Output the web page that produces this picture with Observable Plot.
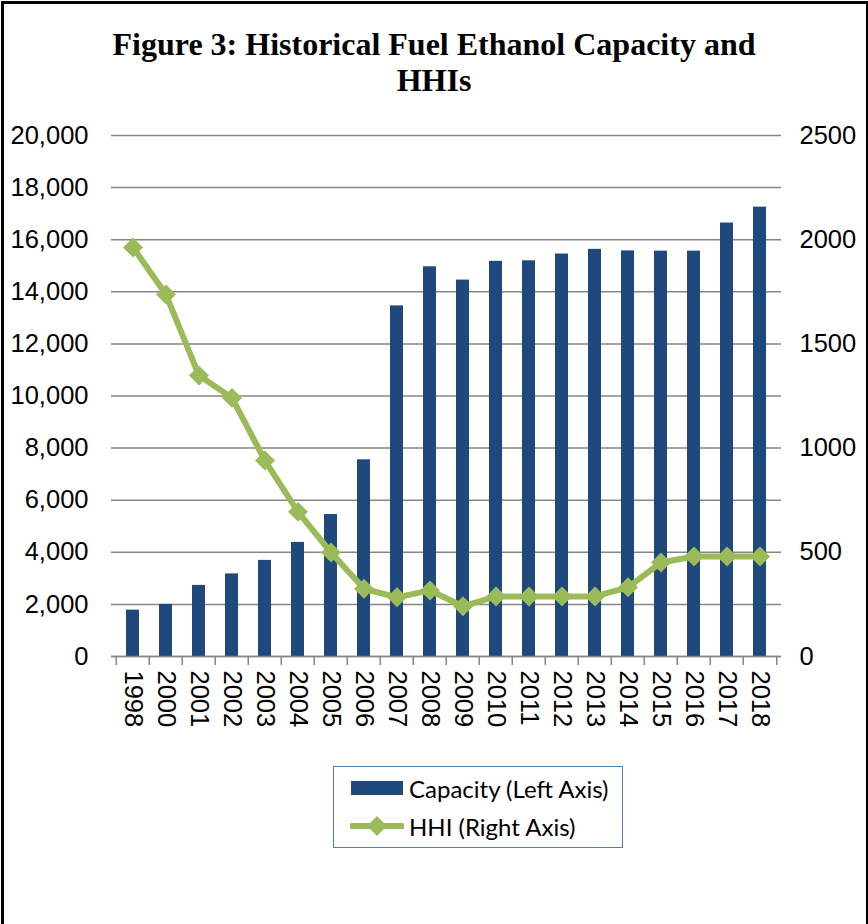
<!DOCTYPE html>
<html>
<head>
<meta charset="utf-8">
<script src="https://cdn.jsdelivr.net/npm/d3@7"></script>
<script src="https://cdn.jsdelivr.net/npm/@observablehq/plot@0.6"></script>
<style>
  html, body { margin: 0; padding: 0; background: #fff; }
  #page { position: relative; width: 868px; height: 924px; overflow: hidden; }
  #frame { position: absolute; left: 1px; top: 1px; width: 862px; height: 940px; border: 3px solid #000; box-sizing: content-box; z-index: 10; pointer-events: none; }
  #title { position: absolute; left: 0; top: 26px; width: 868px; text-align: center;
    font-family: "Liberation Serif", "Times New Roman", serif; font-weight: bold; font-size: 32px; line-height: 36px; color: #000; }
  #chart { position: absolute; left: 0; top: 110px; }
  #legend { position: absolute; left: 333px; top: 766px; width: 290px; height: 82px;
    border: 1.5px solid #4F81BD; box-sizing: border-box;
    font-family: "Lato", "Open Sans", sans-serif; font-size: 24px; color: #000; }
  .lg-row { position: absolute; left: 16px; height: 30px; display: flex; align-items: center; }
  .lg-row svg { margin-right: 5px; }
</style>
</head>
<body>
<div id="page">
  <div id="frame"></div>
  <div id="title">Figure 3: Historical Fuel Ethanol Capacity and<br>HHIs</div>
  <div id="chart"></div>
  <div id="legend">
    <div class="lg-row" style="top:6px"><svg width="54" height="16"><rect x="1" y="1" width="52" height="14" fill="#1F497D"></rect></svg><span>Capacity (Left Axis)</span></div>
    <div class="lg-row" style="top:44px"><svg width="54" height="24"><line x1="2" y1="12" x2="52" y2="12" stroke="#9BBB59" stroke-width="6" stroke-linecap="round"></line><path d="M27,2 L37,12 L27,22 L17,12 Z" fill="#9BBB59"></path></svg><span>HHI (Right Axis)</span></div>
  </div>
</div>
<script>
const years = ["1998","2000","2001","2002","2003","2004","2005","2006","2007","2008","2009","2010","2011","2012","2013","2014","2015","2016","2017","2018"];
const capacity = [1780, 2000, 2730, 3170, 3690, 4380, 5450, 7550, 13460, 14960, 14450, 15170, 15190, 15450, 15630, 15570, 15560, 15560, 16640, 17250];
const hhi = [1963, 1737, 1348, 1241, 940, 694, 499, 325, 284, 317, 241, 288, 288, 288, 288, 332, 451, 480, 480, 480];
const leftTicks = [0, 2000, 4000, 6000, 8000, 10000, 12000, 14000, 16000, 18000, 20000];
const rightTicks = [0, 500, 1000, 1500, 2000, 2500];

const leftMax = 20000, rightMax = 2500;
const ratio = leftMax / rightMax;

const capData = years.map((y, i) => ({year: y, value: capacity[i]}));
const hhiData = years.map((y, i) => ({year: y, value: hhi[i], scaled: hhi[i] * ratio}));

const W = 868, H = 640;
const mL = 111, mR = 87, mT = 25, mB = 94;
const step = (W - mL - mR) / years.length;

const chart = Plot.plot({
  width: W, height: H,
  marginLeft: mL, marginRight: mR, marginTop: mT, marginBottom: mB,
  style: {fontFamily: "'Liberation Sans', Arial, sans-serif", fontSize: "25px", color: "#000", background: "transparent"},
  x: {type: "band", domain: years, paddingInner: 0.6, paddingOuter: 0.3, label: null},
  y: {domain: [0, leftMax], label: null},
  marks: [
    Plot.gridY(leftTicks, {stroke: "#868686", strokeOpacity: 1, strokeWidth: 1.5}),
    Plot.axisY(leftTicks, {anchor: "left", tickSize: 0, tickPadding: 23, tickFormat: d3.format(","), fontSize: 25.5, label: null}),
    Plot.axisY(rightTicks.map(d => d * ratio), {anchor: "right", tickSize: 0, tickPadding: 18, tickFormat: d => String(d / ratio), fontSize: 25.5, label: null}),
    Plot.barY(capData, {x: "year", y: "value", fill: "#1F497D"}),
    Plot.ruleY([0], {stroke: "#868686", strokeWidth: 1.5}),
    Plot.axisX({tickSize: 9, text: null, dx: -step / 2, stroke: "#868686", strokeWidth: 1.5, label: null}),
    Plot.axisX([years[years.length - 1]], {tickSize: 9, text: null, dx: step / 2, stroke: "#868686", strokeWidth: 1.5, label: null}),
    Plot.axisX({tickSize: 0, tickPadding: 14, tickRotate: 90, textAnchor: "start", fontSize: 25.5, label: null}),
    Plot.line(hhiData, {x: "year", y: "scaled", stroke: "#9BBB59", strokeWidth: 6, curve: "linear"}),
    Plot.dot(hhiData, {x: "year", y: "scaled", symbol: "diamond2", r: 9, fill: "#9BBB59", stroke: null})
  ]
});
document.getElementById("chart").appendChild(chart);
</script>
</body>
</html>
